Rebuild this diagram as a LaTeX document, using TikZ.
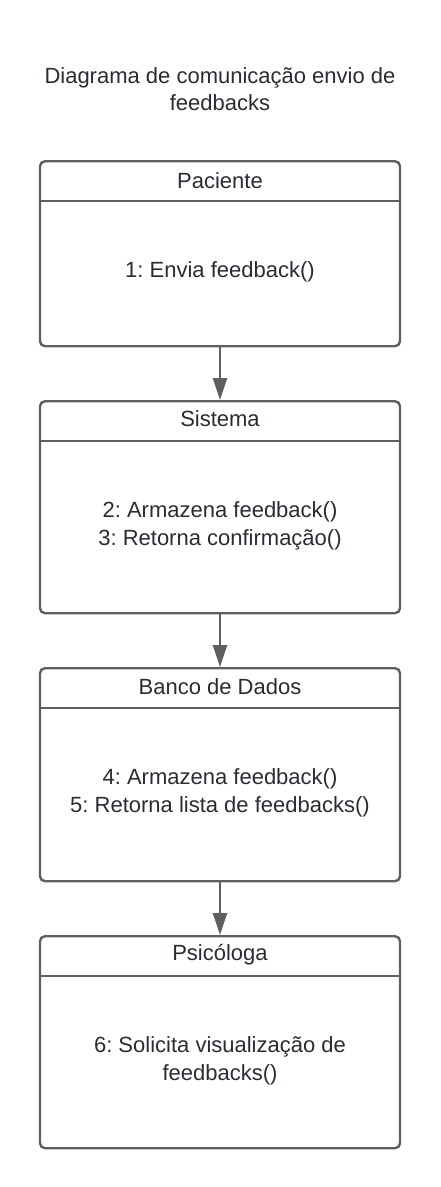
\documentclass[tikz,border=0pt]{standalone}
\usepackage{fontspec}
\setmainfont{Liberation Sans}
\usepackage{xcolor}
\usetikzlibrary{arrows.meta}
\frenchspacing
\definecolor{linegray}{HTML}{5F5F5F}
\definecolor{textgray}{HTML}{292C33}

\tikzset{
  objbox/.style={draw=linegray, line width=2.4pt, rounded corners=5pt,
    minimum width=360pt, anchor=north, inner sep=0pt},
  divider/.style={draw=linegray, line width=2.4pt},
  txt/.style={align=center, text=textgray, inner sep=0pt,
    font=\fontsize{22}{27.5}\selectfont},
}

\begin{document}
\begin{tikzpicture}[x=1pt,y=-1pt]
\useasboundingbox (0,0) rectangle (440,1187);
\begin{scope}[line width=2.4pt,>={Triangle[width=14pt,length=22pt]}]
\node[txt] (titulo) at (220,89) {Diagrama de comunicação envio de\\feedbacks};
% objetos
\node[objbox, minimum height=185pt] (paciente) at (220,160) {};
\node[objbox, minimum height=212pt] (sistema) at (220,400) {};
\node[objbox, minimum height=213pt] (banco) at (220,667) {};
\node[objbox, minimum height=212pt] (psicologa) at (220,935) {};
\foreach \obj in {paciente,sistema,banco,psicologa}
  \draw[divider] ([yshift=-41pt]\obj.north west) -- ([yshift=-41pt]\obj.north east);
\node[txt] (pacienteNome) at (220,181) {Paciente};
\node[txt] (sistemaNome) at (220,419) {Sistema};
\node[txt] (bancoNome) at (220,687) {Banco de Dados};
\node[txt] (psicologaNome) at (220,955) {Psicóloga};
% mensagens
\node[txt] (msgPaciente) at (220,272) {1: Envia feedback()};
\node[txt] (msgSistema) at (220,526) {2: Armazena feedback()\\3: Retorna confirmação()};
\node[txt] (msgBanco) at (220,793) {4: Armazena feedback()\\5: Retorna lista de feedbacks()};
\node[txt] (msgPsicologa) at (220,1061) {6: Solicita visualização de\\feedbacks()};
% setas
\draw [->, linegray] (paciente.south) -- (sistema.north);
\draw [->, linegray] (sistema.south) -- (banco.north);
\draw [->, linegray] (banco.south) -- (psicologa.north);
\end{scope}
\end{tikzpicture}
\end{document}
